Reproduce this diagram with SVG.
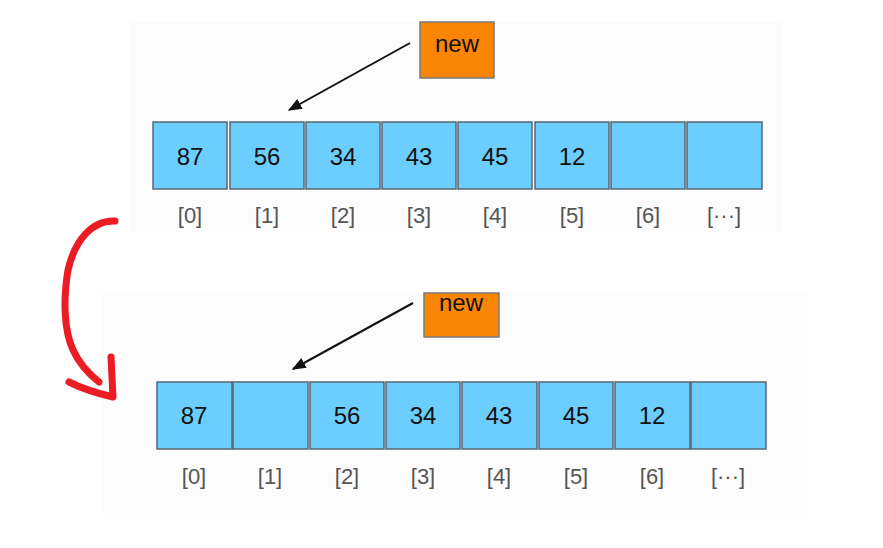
<svg xmlns="http://www.w3.org/2000/svg" width="883" height="548" viewBox="0 0 883 548">
<defs>
<style>
.cell{fill:#6ccdff;stroke:#5a6470;stroke-width:1.5}
.new{fill:#fb8605;stroke:#7a7a7a;stroke-width:1.5}
.num{font-family:"Liberation Sans",Arial,sans-serif;font-size:24px;fill:#111;text-anchor:middle}
.idx{font-family:"Liberation Sans",Arial,sans-serif;font-size:22px;fill:#555;text-anchor:middle}
.conn{stroke:#111;stroke-width:2;fill:none}
.red{stroke:#ec1c24;stroke-width:7;fill:none;stroke-linecap:round;stroke-linejoin:round}
</style>
<marker id="ah" viewBox="0 0 10 10" refX="9" refY="5" markerWidth="7" markerHeight="7" orient="auto" markerUnits="strokeWidth">
<path d="M0,1 L10,5 L0,9 Z" fill="#111"/>
</marker>
</defs>
<rect width="883" height="548" fill="#ffffff"/>
<rect x="130" y="22" width="652" height="210" fill="#fcfcfc"/>
<rect x="101" y="293" width="707" height="220" fill="#fcfcfc"/>

<g id="top-array">
<g id="t0"><rect class="cell" x="153" y="122" width="74" height="67"/><text class="num" x="190" y="165">87</text><text class="idx" x="190" y="223">[0]</text></g>
<g id="t1"><rect class="cell" x="230" y="122" width="74" height="67"/><text class="num" x="267" y="165">56</text><text class="idx" x="267" y="223">[1]</text></g>
<g id="t2"><rect class="cell" x="306" y="122" width="74" height="67"/><text class="num" x="343" y="165">34</text><text class="idx" x="343" y="223">[2]</text></g>
<g id="t3"><rect class="cell" x="382" y="122" width="74" height="67"/><text class="num" x="419" y="165">43</text><text class="idx" x="419" y="223">[3]</text></g>
<g id="t4"><rect class="cell" x="458" y="122" width="74" height="67"/><text class="num" x="495" y="165">45</text><text class="idx" x="495" y="223">[4]</text></g>
<g id="t5"><rect class="cell" x="535" y="122" width="74" height="67"/><text class="num" x="572" y="165">12</text><text class="idx" x="572" y="223">[5]</text></g>
<g id="t6"><rect class="cell" x="611" y="122" width="74" height="67"/><text class="idx" x="648" y="223">[6]</text></g>
<g id="t7"><rect class="cell" x="687" y="122" width="75" height="67"/><text class="idx" x="724" y="223">[···]</text></g>
</g>
<g id="top-new"><rect class="new" x="420" y="22" width="74" height="56"/><text class="num" x="457" y="52" style="font-size:24px">new</text></g>

<g id="bottom-array">
<g id="b0"><rect class="cell" x="157" y="382" width="75" height="67"/><text class="num" x="194" y="424">87</text><text class="idx" x="194" y="484">[0]</text></g>
<g id="b1"><rect class="cell" x="233" y="382" width="75" height="67"/><text class="idx" x="270" y="484">[1]</text></g>
<g id="b2"><rect class="cell" x="310" y="382" width="74" height="67"/><text class="num" x="347" y="424">56</text><text class="idx" x="347" y="484">[2]</text></g>
<g id="b3"><rect class="cell" x="386" y="382" width="74" height="67"/><text class="num" x="423" y="424">34</text><text class="idx" x="423" y="484">[3]</text></g>
<g id="b4"><rect class="cell" x="462" y="382" width="75" height="67"/><text class="num" x="499" y="424">43</text><text class="idx" x="499" y="484">[4]</text></g>
<g id="b5"><rect class="cell" x="539" y="382" width="74" height="67"/><text class="num" x="576" y="424">45</text><text class="idx" x="576" y="484">[5]</text></g>
<g id="b6"><rect class="cell" x="615" y="382" width="75" height="67"/><text class="num" x="652" y="424">12</text><text class="idx" x="652" y="484">[6]</text></g>
<g id="b7"><rect class="cell" x="691" y="382" width="75" height="67"/><text class="idx" x="728" y="484">[···]</text></g>
</g>
<g id="bottom-new"><rect class="new" x="424" y="293" width="75" height="44"/><text class="num" x="461" y="311" style="font-size:24px">new</text></g>

<g id="connectors">
<line class="conn" x1="410" y1="43" x2="289" y2="110" marker-end="url(#ah)"/>
<line class="conn" x1="413" y1="303" x2="293" y2="369" marker-end="url(#ah)"/>
<path class="red" d="M115,221 C92,220 75,240 68,270 C63,300 64,330 73,350 C80,365 90,375 99,382"/>
<path class="red" d="M69,382 C85,390 100,394 113,397 L111,357"/>
</g>
</svg>
